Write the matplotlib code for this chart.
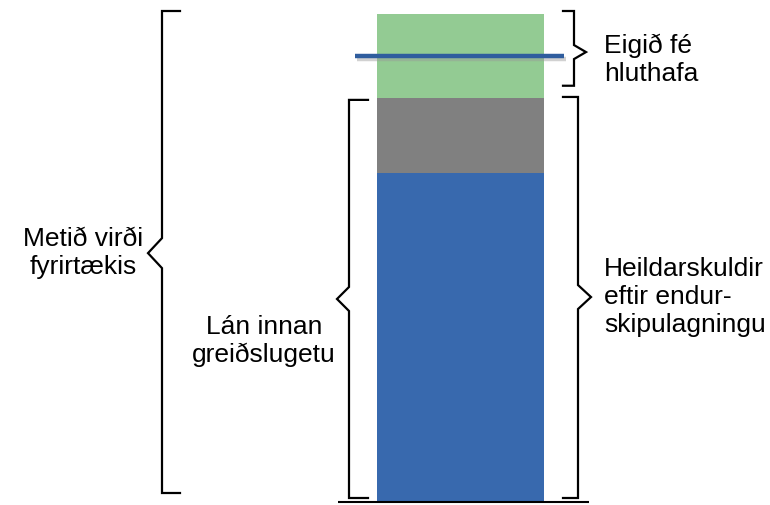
import matplotlib
matplotlib.use("Agg")
import matplotlib.pyplot as plt
import matplotlib.patheffects as pe

plt.rcParams['font.family'] = ['Liberation Sans', 'DejaVu Sans']

# Data (share of company value, %)
segments = ["Lán innan greiðslugetu", "Aðrar skuldir", "Eigið fé hluthafa"]
values = [67.4, 15.4, 17.2]
colors = ["#3869AE", "#808080", "#93CB93"]
marker_level = 91.4  # horizontal line

fig = plt.figure(figsize=(7.7, 5.05), dpi=100)
ax = fig.add_axes([0, 0, 1, 1])
ax.set_xlim(0, 770)
PX = 4.88  # pixels per unit
ax.set_ylim(-3 / PX, 502 / PX)
ax.axis("off")

bottom = 0
for v, c in zip(values, colors):
    ax.bar(460.5, v, width=167, bottom=bottom, color=c, edgecolor="none", zorder=2)
    bottom += v
total = bottom

# baseline
ax.plot([338, 589], [0, 0], color="black", lw=1.5, solid_capstyle="butt", zorder=3)

# marker line with shadow
ax.plot([355, 564], [marker_level, marker_level], color="#2F5D9E", lw=3.2,
        solid_capstyle="butt", zorder=4,
        path_effects=[pe.SimpleLineShadow(offset=(1.5, -2.5), shadow_color="#999999", alpha=0.45),
                      pe.Normal()])


def brace(x, y0, y1, ymid, tip, arm, notch):
    # x: vertical line position, tip: x of tip, arm: x end of horizontal arms
    n = notch / PX
    xs = [arm, x, x, tip, x, x, arm]
    ys = [y1, y1, ymid + n, ymid, ymid - n, y0, y0]
    ax.plot(xs, ys, color="black", lw=1.6, solid_joinstyle="miter", zorder=3)


d = values
# left big brace (whole value)
brace(162, 9 / PX, total + 3 / PX, 51.0, 148, 180, 15)
# middle brace (debt within repayment capacity + others)
brace(349, 4 / PX, d[0] + d[1] - 0.4, 41.6, 337, 368, 12)
# right small brace (equity)
brace(574, d[0] + d[1] + 2.5, total + 3 / PX, 92.2, 586, 563, 7)
# right big brace (total debt after restructuring)
brace(578, 4 / PX, d[0] + d[1] + 0.2, 42.0, 591, 563, 12)

fs = 19
ax.text(83, 51.0, "Metið virði\nfyrirtækis", ha="center", va="center", fontsize=fs, linespacing=1.2)
ax.text(264, 33.0, "Lán innan\ngreiðslugetu", ha="center", va="center", fontsize=fs, linespacing=1.2)
ax.text(604, 42.0, "Heildarskuldir\neftir endur-\nskipulagningu", ha="left", va="center",
        fontsize=fs, linespacing=1.2)
ax.text(604, 90.6, "Eigið fé\nhluthafa", ha="left", va="center", fontsize=fs, linespacing=1.2)

fig.savefig("out.png", dpi=100)
